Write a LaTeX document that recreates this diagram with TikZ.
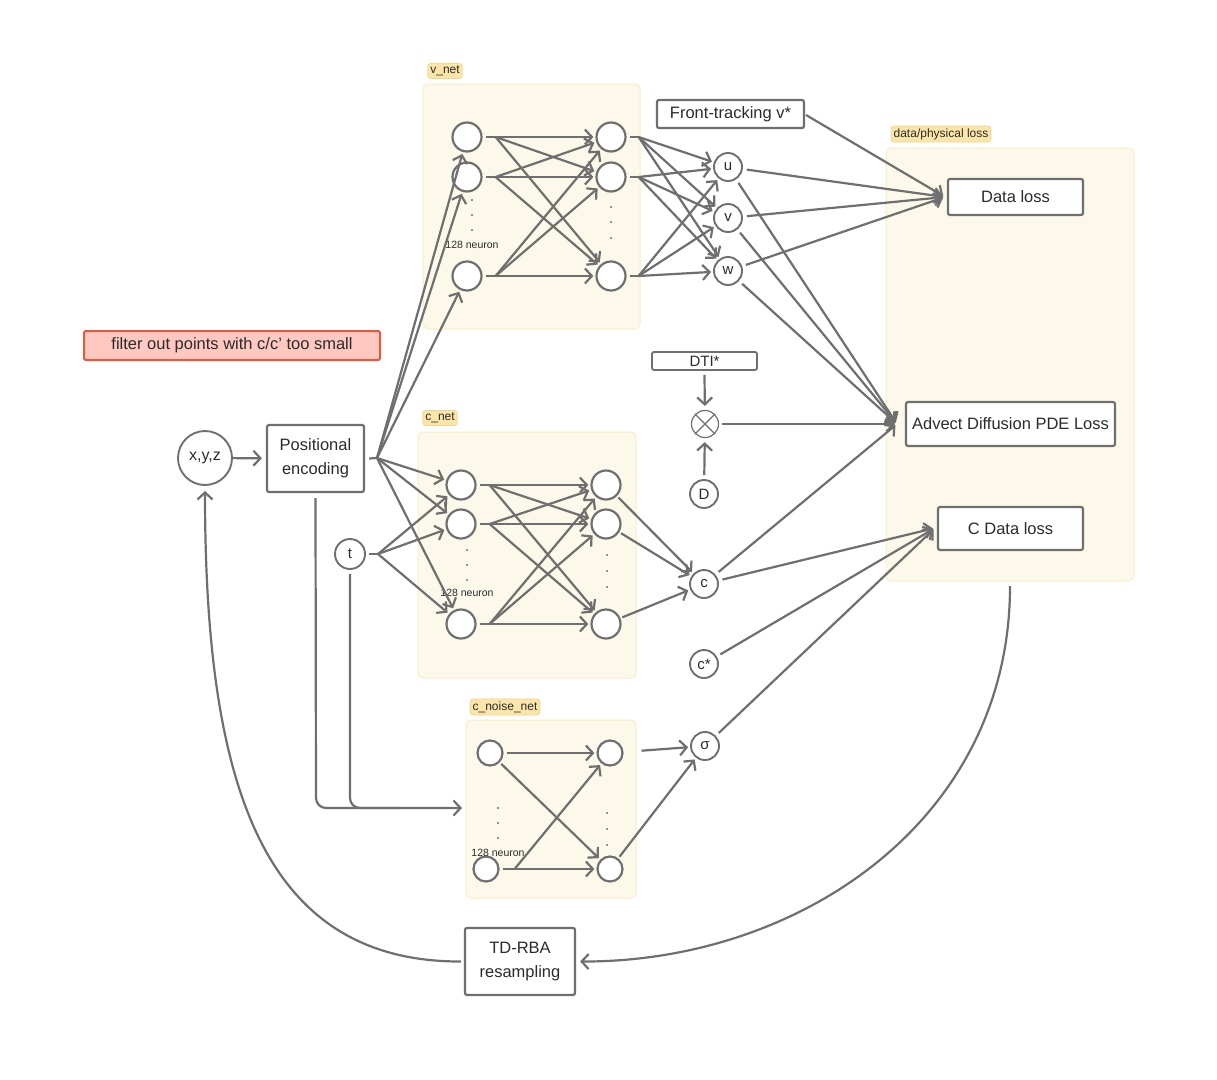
\documentclass[tikz,border=0pt]{standalone}
\usepackage{fontspec}
\setmainfont{Liberation Sans}
\usetikzlibrary{arrows.meta,calc}
\definecolor{ln}{HTML}{6F6F6F}
\definecolor{txt}{HTML}{2B2B2B}
\definecolor{netfill}{HTML}{FDF9EA}
\definecolor{netdraw}{HTML}{F8EDC8}
\definecolor{tagfill}{HTML}{FCE5A8}
\definecolor{tagdraw}{HTML}{F3D690}
\definecolor{redfill}{HTML}{FFC8C0}
\definecolor{reddraw}{HTML}{E8583C}
\begin{document}
\begin{tikzpicture}[x=1pt,y=-1pt,
  plain/.style={draw=ln,line width=2.2pt},
  arr/.style={draw=ln,line width=2.2pt,-{Straight Barb[length=7pt,width=15pt]},shorten >=2pt},
  neuron/.style={circle,draw=ln,line width=2.2pt,fill=white,minimum size=29pt,inner sep=0pt},
  sneuron/.style={neuron,minimum size=25pt},
  var/.style={circle,draw=ln,line width=1.9pt,fill=white,minimum size=28pt,inner sep=0pt,text=txt,font=\fontsize{15}{17}\selectfont},
  boxx/.style={draw=ln,line width=2.2pt,rounded corners=2pt,fill=white,text=txt,inner sep=0pt,align=center,font=\fontsize{16.5}{24}\selectfont},
  netbox/.style={fill=netfill,draw=netdraw,line width=1pt,rounded corners=5pt},
  tag/.style={fill=tagfill,draw=tagdraw,line width=0.8pt,rounded corners=3pt,inner sep=2.5pt,text=txt,font=\fontsize{12}{13}\selectfont},
  small/.style={text=txt,font=\fontsize{10.5}{12}\selectfont,inner sep=0pt},
  dotf/.style={fill=txt}
]
\useasboundingbox[fill=white] (0,0) rectangle (1217,1079);

% ---------- containers ----------
\draw[netbox] (423,84) rectangle (640,329);
\node[tag] (tagv) at (445,71) {v\_net};
\draw[netbox] (418,432) rectangle (636,678);
\node[tag] (tagc) at (440,418) {c\_net};
\draw[netbox] (466,720) rectangle (636,898);
\node[tag] (tagn) at (505,707) {c\_noise\_net};
\draw[netbox] (886,148) rectangle (1134,581);
\node[tag] (tagd) at (941,134) {data/physical loss};

% ---------- filter note ----------
\node[draw=reddraw,fill=redfill,line width=2pt,rounded corners=2pt,minimum width=296pt,minimum height=29pt,inner sep=0pt,text=txt,font=\fontsize{16.5}{18}\selectfont] (filter) at (232,345.5) {filter out points with c/c\textquoteright{} too small};

% ---------- v_net ----------
\node[neuron] (v1a) at (467,137) {};
\node[neuron] (v1b) at (467,177) {};
\node[neuron] (v1c) at (467,276) {};
\node[neuron] (v2a) at (611,137) {};
\node[neuron] (v2b) at (611,177) {};
\node[neuron] (v2c) at (611,276) {};
\node[small] (vlab) at (472,245) {128 neuron};
\foreach \yy in {200,215,230} \fill[dotf] (472,\yy) circle (0.9);
\foreach \yy in {207,222,238} \fill[dotf] (611,\yy) circle (0.9);

% ---------- c_net ----------
\node[neuron] (c1a) at (461,485) {};
\node[neuron] (c1b) at (461,524) {};
\node[neuron] (c1c) at (461,624) {};
\node[neuron] (c2a) at (606,485) {};
\node[neuron] (c2b) at (606,524) {};
\node[neuron] (c2c) at (606,624) {};
\node[small] (clab) at (467,593) {128 neuron};
\foreach \yy in {550,565,580} \fill[dotf] (467,\yy) circle (0.9);
\foreach \yy in {555,571,587} \fill[dotf] (607,\yy) circle (0.9);

% ---------- c_noise_net ----------
\node[sneuron] (n1a) at (490,753) {};
\node[sneuron] (n1b) at (486,869) {};
\node[sneuron] (n2a) at (610,753) {};
\node[sneuron] (n2b) at (610,869) {};
\foreach \yy in {808,823,838} \fill[dotf] (498,\yy) circle (0.9);
\foreach \yy in {813,829,845} \fill[dotf] (607,\yy) circle (0.9);

% ---------- other nodes ----------
\node[var,minimum size=54pt,font=\fontsize{16}{18}\selectfont] (xyz) at (205,458) {x,y,z};
\node[boxx,minimum width=97pt,minimum height=67pt] (pe) at (315.5,458.5) {Positional\\encoding};
\node[var,minimum size=30pt] (t) at (350,554) {t};
\node[var] (u) at (728,167) {u};
\node[var] (v) at (728,218) {v};
\node[var] (w) at (728,271) {w};
\node[boxx,minimum width=147pt,minimum height=28pt] (ft) at (730.5,114) {Front-tracking v*};
\node[boxx,minimum width=135pt,minimum height=36pt] (dl) at (1015.5,197) {Data loss};
\node[boxx,minimum width=209pt,minimum height=44pt] (pde) at (1010.5,424) {Advect Diffusion PDE Loss};
\node[boxx,minimum width=145pt,minimum height=43pt] (cdl) at (1010.5,528.5) {C Data loss};
\node[boxx,line width=1.8pt,minimum width=105pt,minimum height=18pt,font=\fontsize{15}{16}\selectfont] (dti) at (704.5,361) {DTI*};
\node[circle,draw=ln,line width=1.2pt,minimum size=27pt,inner sep=0pt,fill=white] (ot) at (705,424) {};
\draw[draw=ln,line width=1.2pt] (ot.north east) -- (ot.south west) (ot.north west) -- (ot.south east);
\node[var] (D) at (704,494) {D};
\node[var] (c) at (704,584) {c};
\node[var] (cs) at (704,664) {c*};
\node[var] (sig) at (705,746) {σ};
\node[boxx,minimum width=110pt,minimum height=67pt] (td) at (520,961.5) {TD-RBA\\resampling};
\node[small] (nlab) at (498,853) {128 neuron};

% ---------- coordinates ----------
\coordinate (peo) at (377,458);
\coordinate (to) at (378,554);
\coordinate (dlin) at (945,197);
\coordinate (pdein) at (897,424);
\coordinate (cdlin) at (935,528);
\coordinate (nin) at (464,808);
\coordinate (dbot) at (1010,586);
\coordinate (fto) at (806,115);

% ---------- inputs ----------
\draw[arr,shorten >=4pt] (xyz) -- (pe);
\draw[plain] ([xshift=4pt]pe.east) -- (peo);
\draw[plain] ([xshift=3pt]t.east) -- (to);
\foreach \n in {v1a,v1b,v1c,c1a,c1b,c1c} \draw[arr] (peo) -- (\n);
\foreach \n in {c1a,c1b,c1c} \draw[arr] (to) -- (\n);
\draw[arr,rounded corners=10pt] ([yshift=-5pt]pe.south) -- (316,808) -- (nin);
\draw[plain,rounded corners=10pt] ([yshift=-4pt]t.south) -- (350,808) -- (400,808);

% ---------- v_net edges ----------
\foreach \i in {a,b,c} {
  \draw[plain] ([xshift=3pt]v1\i.east) -- ++(10,0) coordinate (vf\i);
  \foreach \j in {a,b,c} \draw[arr] (vf\i) -- (v2\j);
  \draw[plain] ([xshift=3pt]v2\i.east) -- ++(9,0) coordinate (vg\i);
  \foreach \j in {u,v,w} \draw[arr] (vg\i) -- (\j);
}
% ---------- c_net edges ----------
\foreach \i in {a,b,c} {
  \draw[plain] ([xshift=3pt]c1\i.east) -- ++(10,0) coordinate (cf\i);
  \foreach \j in {a,b,c} \draw[arr] (cf\i) -- (c2\j);
  \draw[arr,shorten <=2pt] (c2\i) -- (c);
}
% ---------- c_noise edges ----------
\draw[arr,shorten <=3pt] (n1a) -- (n2a);
\draw[arr,shorten <=2pt] (n1a) -- (n2b);
\draw[plain] ([xshift=3pt]n1b.east) -- ++(12,0) coordinate (nf);
\draw[arr] (nf) -- (n2a);
\draw[arr] (nf) -- (n2b);
\draw[arr,shorten <=18pt] (n2a) -- (sig);
\draw[arr,shorten <=2pt] (n2b) -- (sig);

% ---------- losses ----------
\foreach \j in {u,v,w} {
  \draw[arr,shorten <=4pt] (\j) -- (dlin);
  \draw[arr,shorten <=4pt] (\j) -- (pdein);
}
\draw[arr] (fto) -- (dlin);
\draw[arr,shorten >=4pt] ([yshift=-4pt]dti.south) -- (ot);
\draw[arr,shorten >=4pt,shorten <=4pt] (D) -- (ot);
\draw[arr,shorten <=3pt] (ot) -- (pdein);
\draw[arr,shorten <=4pt] (c) -- (pdein);
\draw[arr,shorten <=4pt] (c) -- (cdlin);
\draw[arr,shorten <=4pt] (cs) -- (cdlin);
\draw[arr,shorten <=4pt] (sig) -- (cdlin);

% ---------- feedback ----------
\draw[arr,shorten >=4pt] (dbot) .. controls (1010,820) and (800,962) .. (td.east);
\draw[arr,shorten >=5pt] ([xshift=-3pt]td.west) .. controls (260,962) and (205,780) .. (xyz.south);
\end{tikzpicture}
\end{document}
